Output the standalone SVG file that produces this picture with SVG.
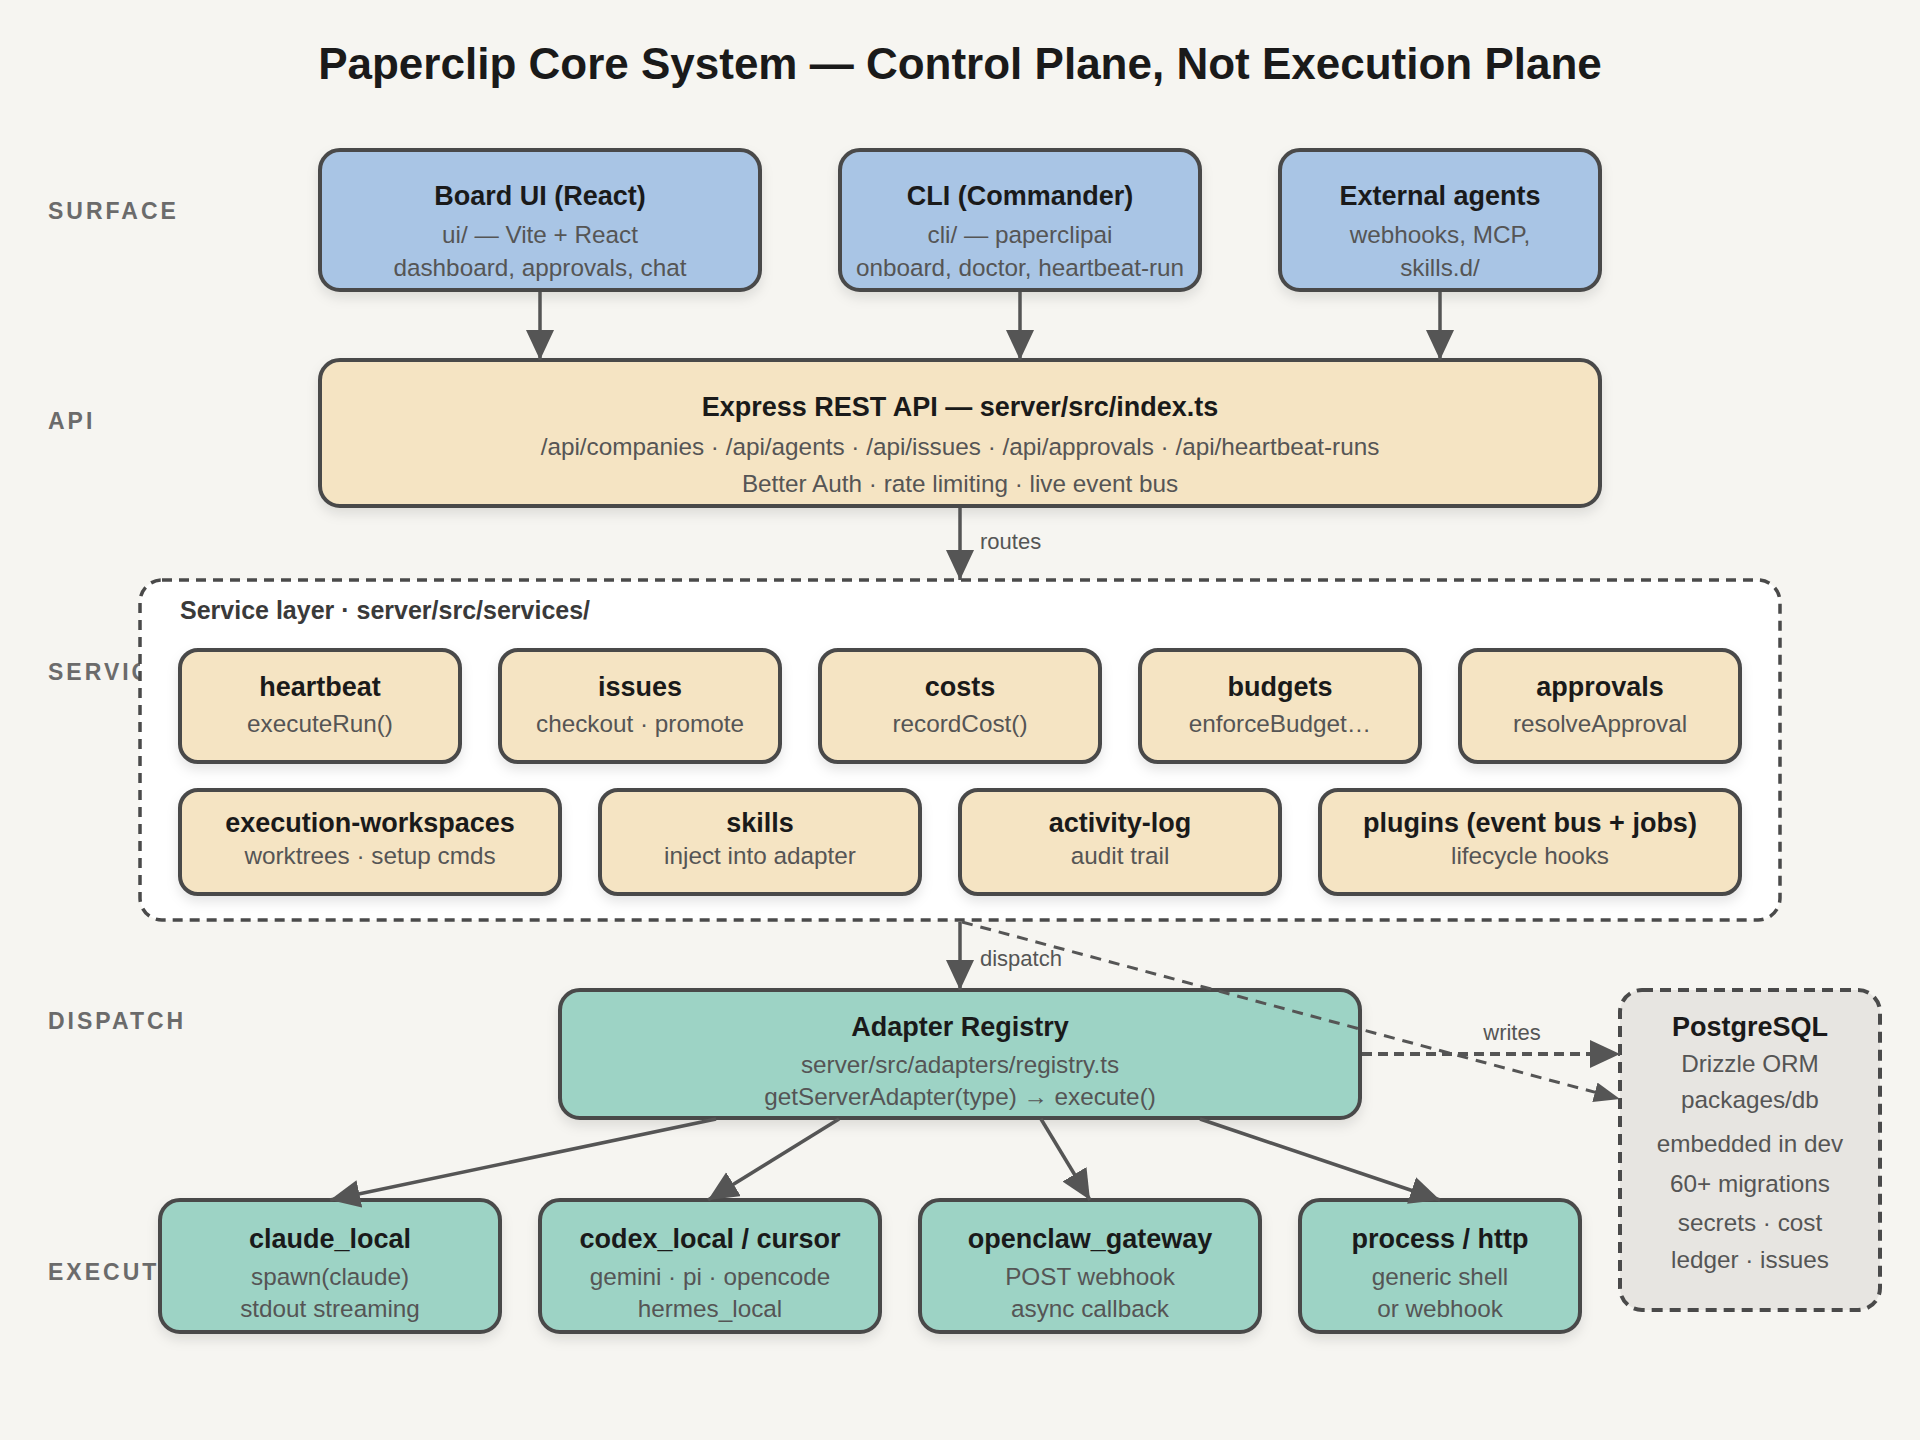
<svg xmlns="http://www.w3.org/2000/svg" width="1920" height="1440" viewBox="0 0 1920 1440">
<defs>
<style>
.bg{fill:#f6f5f1}
.title{font-family:"Liberation Sans",Arial,sans-serif;font-weight:bold;font-size:44px;fill:#1a1a1a;text-anchor:middle}
.lane{font-family:"Liberation Sans",Arial,sans-serif;font-weight:bold;font-size:23px;fill:#6b6b6b;letter-spacing:3px}
.box{stroke:#4a4a4a;stroke-width:4;filter:url(#sh)}
.blue{fill:#a9c5e5}
.tan{fill:#f5e4c3}
.teal{fill:#9dd3c5}
.t{font-family:"Liberation Sans",Arial,sans-serif;font-weight:bold;font-size:27px;fill:#1a1a1a;text-anchor:middle}
.s{font-family:"Liberation Sans",Arial,sans-serif;font-size:24.3px;fill:#555;text-anchor:middle}
.lbl{font-family:"Liberation Sans",Arial,sans-serif;font-size:22px;fill:#555}
.cont{fill:#ffffff;stroke:#4a4a4a;stroke-width:3.5;stroke-dasharray:10 7}
.db{fill:#e7e5e1;stroke:#4a4a4a;stroke-width:4;stroke-dasharray:11 7}
.ctitle{font-family:"Liberation Sans",Arial,sans-serif;font-weight:bold;font-size:25px;fill:#3a3a3a}
.edge{stroke:#555;stroke-width:3.5;fill:none}
.dash1{stroke:#555;stroke-width:4;fill:none;stroke-dasharray:10 6}
.dash2{stroke:#555;stroke-width:3;fill:none;stroke-dasharray:11 8}
</style>
<filter id="sh" x="-10%" y="-10%" width="120%" height="130%">
<feDropShadow dx="0" dy="6" stdDeviation="6" flood-color="#000" flood-opacity="0.10"/>
</filter>
<marker id="ah" markerUnits="userSpaceOnUse" markerWidth="30" markerHeight="30" refX="30" refY="14" orient="auto">
<path d="M0,0 L30,14 L0,28 z" fill="#555"/>
</marker>
<marker id="ahs" markerUnits="userSpaceOnUse" markerWidth="26" markerHeight="22" refX="26" refY="10" orient="auto">
<path d="M0,0 L26,10 L0,20 z" fill="#555"/>
</marker>
</defs>
<rect class="bg" x="0" y="0" width="1920" height="1440"/>
<text class="title" x="960" y="79">Paperclip Core System — Control Plane, Not Execution Plane</text>

<g id="lanes">
<text class="lane" x="48" y="219">SURFACE</text>
<text class="lane" x="48" y="429">API</text>
<text class="lane" x="48" y="680">SERVICES</text>
<text class="lane" x="48" y="1029">DISPATCH</text>
<text class="lane" x="48" y="1280">EXECUTION</text>
</g>

<g id="service-layer">
<rect class="cont" x="140" y="580" width="1640" height="340" rx="22"/>
<text class="ctitle" x="180" y="619">Service layer · server/src/services/</text>
</g>

<g id="board-ui">
<rect class="box blue" x="320" y="150" width="440" height="140" rx="20"/>
<text class="t" x="540" y="205">Board UI (React)</text>
<text class="s" x="540" y="243">ui/ — Vite + React</text>
<text class="s" x="540" y="276">dashboard, approvals, chat</text>
</g>
<g id="cli">
<rect class="box blue" x="840" y="150" width="360" height="140" rx="20"/>
<text class="t" x="1020" y="205">CLI (Commander)</text>
<text class="s" x="1020" y="243">cli/ — paperclipai</text>
<text class="s" x="1020" y="276">onboard, doctor, heartbeat-run</text>
</g>
<g id="external-agents">
<rect class="box blue" x="1280" y="150" width="320" height="140" rx="20"/>
<text class="t" x="1440" y="205">External agents</text>
<text class="s" x="1440" y="243">webhooks, MCP,</text>
<text class="s" x="1440" y="276">skills.d/</text>
</g>

<g id="api">
<rect class="box tan" x="320" y="360" width="1280" height="146" rx="20"/>
<text class="t" x="960" y="416">Express REST API — server/src/index.ts</text>
<text class="s" x="960" y="455">/api/companies · /api/agents · /api/issues · /api/approvals · /api/heartbeat-runs</text>
<text class="s" x="960" y="492">Better Auth · rate limiting · live event bus</text>
</g>

<g id="heartbeat">
<rect class="box tan" x="180" y="650" width="280" height="112" rx="18"/>
<text class="t" x="320" y="696">heartbeat</text>
<text class="s" x="320" y="732">executeRun()</text>
</g>
<g id="issues">
<rect class="box tan" x="500" y="650" width="280" height="112" rx="18"/>
<text class="t" x="640" y="696">issues</text>
<text class="s" x="640" y="732">checkout · promote</text>
</g>
<g id="costs">
<rect class="box tan" x="820" y="650" width="280" height="112" rx="18"/>
<text class="t" x="960" y="696">costs</text>
<text class="s" x="960" y="732">recordCost()</text>
</g>
<g id="budgets">
<rect class="box tan" x="1140" y="650" width="280" height="112" rx="18"/>
<text class="t" x="1280" y="696">budgets</text>
<text class="s" x="1280" y="732">enforceBudget…</text>
</g>
<g id="approvals">
<rect class="box tan" x="1460" y="650" width="280" height="112" rx="18"/>
<text class="t" x="1600" y="696">approvals</text>
<text class="s" x="1600" y="732">resolveApproval</text>
</g>
<g id="execution-workspaces">
<rect class="box tan" x="180" y="790" width="380" height="104" rx="18"/>
<text class="t" x="370" y="832">execution-workspaces</text>
<text class="s" x="370" y="864">worktrees · setup cmds</text>
</g>
<g id="skills">
<rect class="box tan" x="600" y="790" width="320" height="104" rx="18"/>
<text class="t" x="760" y="832">skills</text>
<text class="s" x="760" y="864">inject into adapter</text>
</g>
<g id="activity-log">
<rect class="box tan" x="960" y="790" width="320" height="104" rx="18"/>
<text class="t" x="1120" y="832">activity-log</text>
<text class="s" x="1120" y="864">audit trail</text>
</g>
<g id="plugins">
<rect class="box tan" x="1320" y="790" width="420" height="104" rx="18"/>
<text class="t" x="1530" y="832">plugins (event bus + jobs)</text>
<text class="s" x="1530" y="864">lifecycle hooks</text>
</g>

<g id="adapter-registry">
<rect class="box teal" x="560" y="990" width="800" height="128" rx="20"/>
<text class="t" x="960" y="1036">Adapter Registry</text>
<text class="s" x="960" y="1073">server/src/adapters/registry.ts</text>
<text class="s" x="960" y="1105">getServerAdapter(type) → execute()</text>
</g>

<g id="postgresql">
<rect class="db" x="1620" y="990" width="260" height="320" rx="22"/>
<text class="t" x="1750" y="1036">PostgreSQL</text>
<text class="s" x="1750" y="1072">Drizzle ORM</text>
<text class="s" x="1750" y="1108">packages/db</text>
<text class="s" x="1750" y="1152">embedded in dev</text>
<text class="s" x="1750" y="1192">60+ migrations</text>
<text class="s" x="1750" y="1231">secrets · cost</text>
<text class="s" x="1750" y="1268">ledger · issues</text>
</g>

<g id="claude-local">
<rect class="box teal" x="160" y="1200" width="340" height="132" rx="20"/>
<text class="t" x="330" y="1248">claude_local</text>
<text class="s" x="330" y="1285">spawn(claude)</text>
<text class="s" x="330" y="1317">stdout streaming</text>
</g>
<g id="codex-local">
<rect class="box teal" x="540" y="1200" width="340" height="132" rx="20"/>
<text class="t" x="710" y="1248">codex_local / cursor</text>
<text class="s" x="710" y="1285">gemini · pi · opencode</text>
<text class="s" x="710" y="1317">hermes_local</text>
</g>
<g id="openclaw-gateway">
<rect class="box teal" x="920" y="1200" width="340" height="132" rx="20"/>
<text class="t" x="1090" y="1248">openclaw_gateway</text>
<text class="s" x="1090" y="1285">POST webhook</text>
<text class="s" x="1090" y="1317">async callback</text>
</g>
<g id="process-http">
<rect class="box teal" x="1300" y="1200" width="280" height="132" rx="20"/>
<text class="t" x="1440" y="1248">process / http</text>
<text class="s" x="1440" y="1285">generic shell</text>
<text class="s" x="1440" y="1317">or webhook</text>
</g>

<g id="connectors">
<line class="edge" x1="540" y1="292" x2="540" y2="360" marker-end="url(#ah)"/>
<line class="edge" x1="1020" y1="292" x2="1020" y2="360" marker-end="url(#ah)"/>
<line class="edge" x1="1440" y1="292" x2="1440" y2="360" marker-end="url(#ah)"/>
<line class="edge" x1="960" y1="508" x2="960" y2="580" marker-end="url(#ah)"/>
<text class="lbl" x="980" y="549">routes</text>
<line class="edge" x1="960" y1="922" x2="960" y2="990" marker-end="url(#ah)"/>
<text class="lbl" x="980" y="966">dispatch</text>
<line class="dash2" x1="962" y1="922" x2="1620" y2="1099" marker-end="url(#ahs)"/>
<line class="dash1" x1="1362" y1="1054" x2="1620" y2="1054" marker-end="url(#ah)"/>
<text class="lbl" x="1512" y="1040" text-anchor="middle">writes</text>
<line class="edge" x1="716" y1="1119" x2="330" y2="1200" marker-end="url(#ah)"/>
<line class="edge" x1="839" y1="1119" x2="708" y2="1200" marker-end="url(#ah)"/>
<line class="edge" x1="1041" y1="1119" x2="1090" y2="1200" marker-end="url(#ah)"/>
<line class="edge" x1="1200" y1="1119" x2="1440" y2="1200" marker-end="url(#ah)"/>
</g>
</svg>
